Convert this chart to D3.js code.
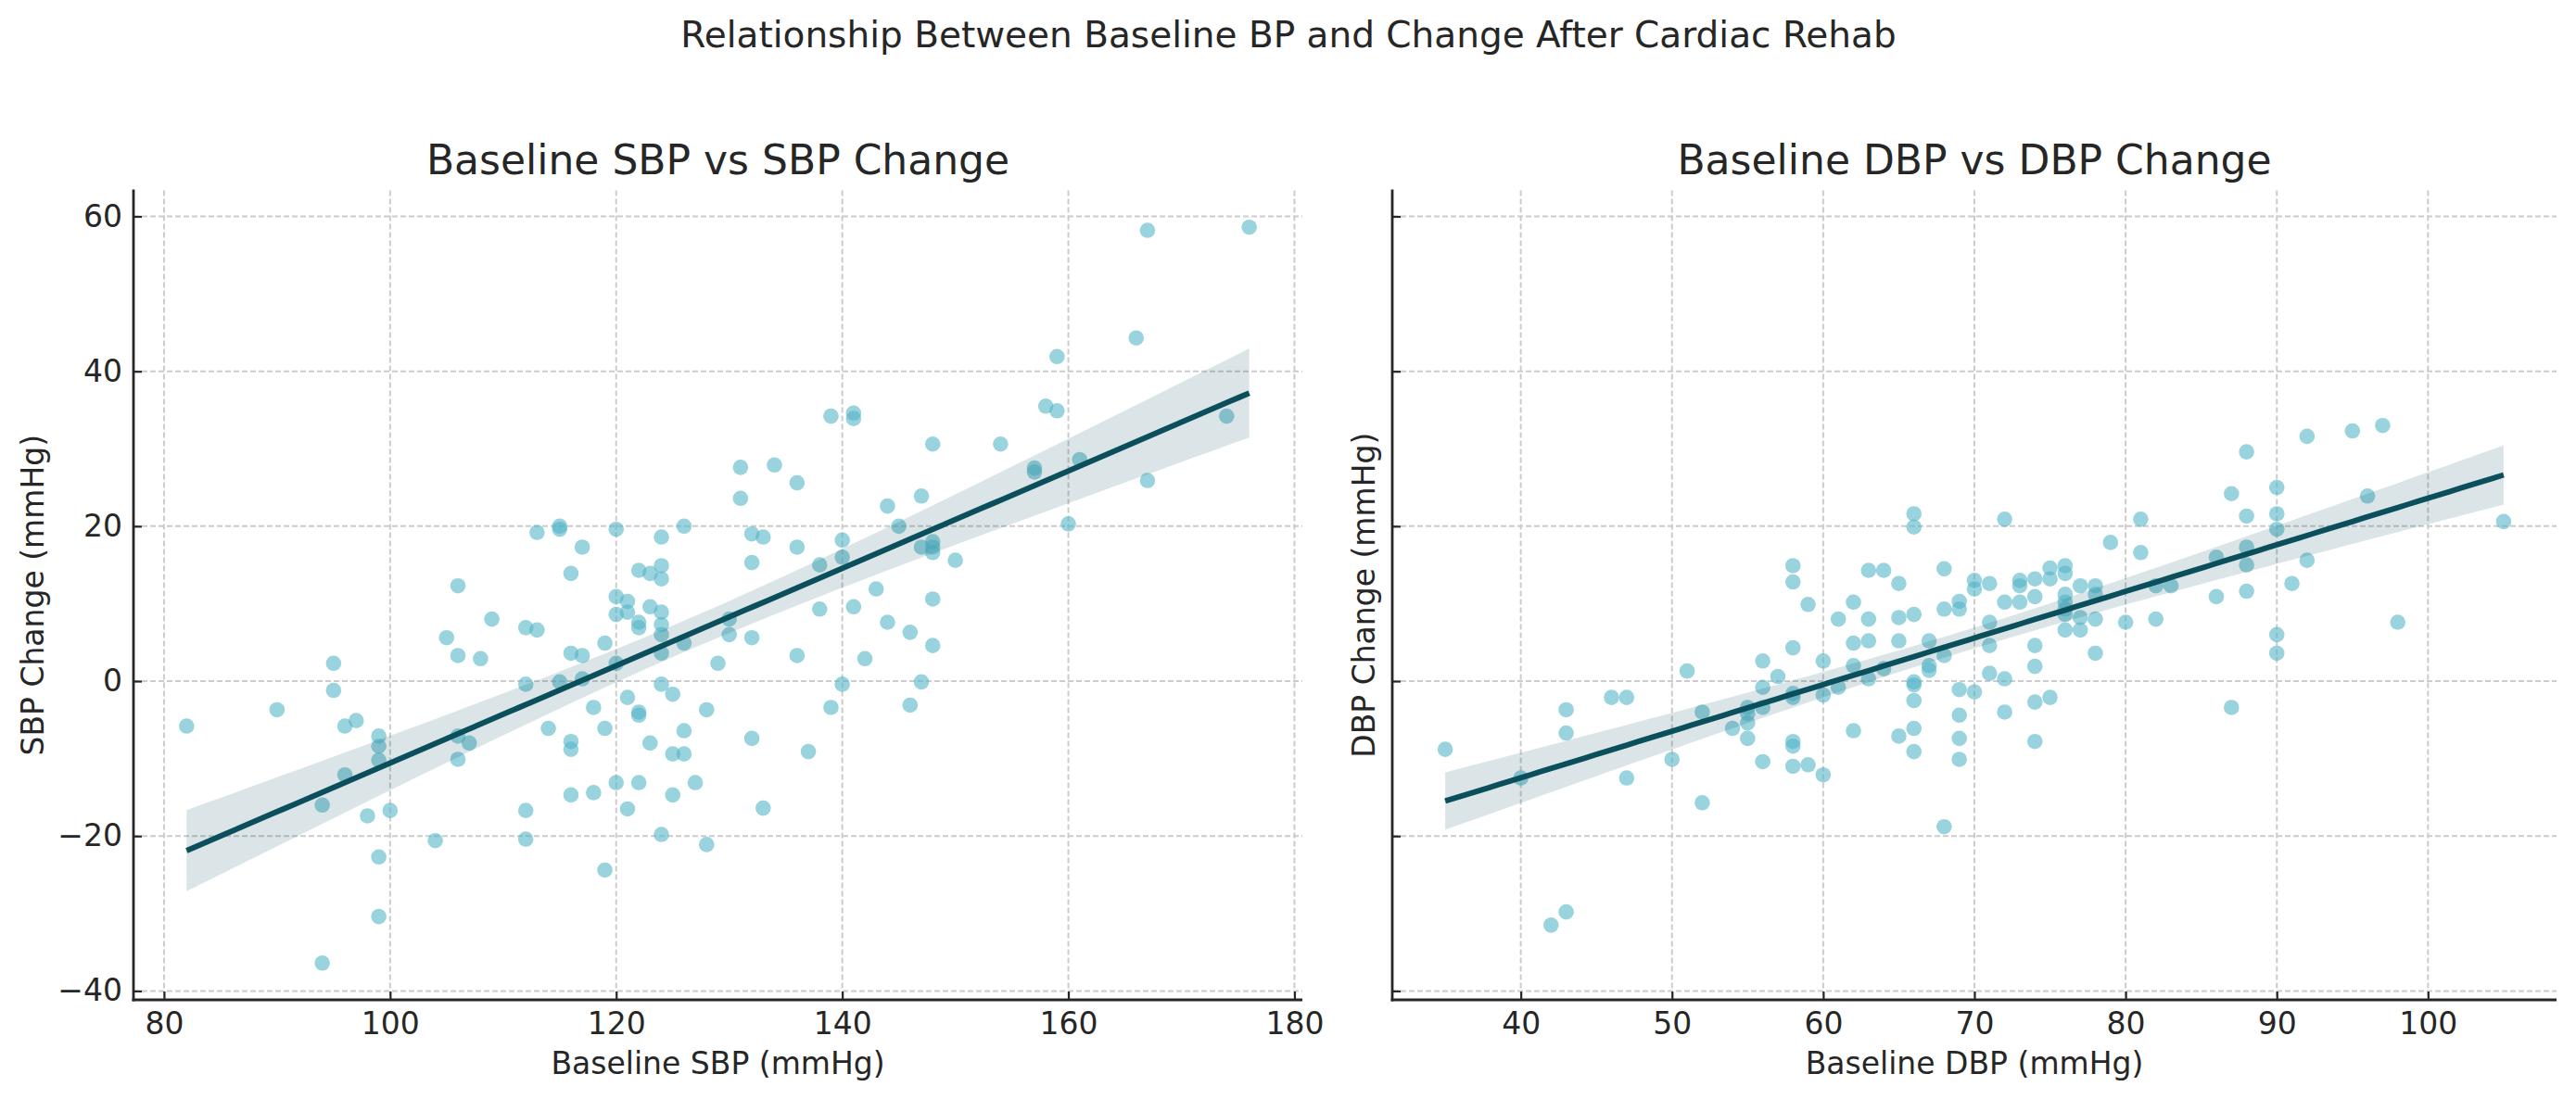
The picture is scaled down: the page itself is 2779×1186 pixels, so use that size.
<!DOCTYPE html>
<html>
<head>
<meta charset="utf-8">
<script src="https://cdnjs.cloudflare.com/ajax/libs/d3/7.8.5/d3.min.js"></script>
<style>
body { margin: 0; background: #ffffff; }
text { font-family: "DejaVu Sans", sans-serif; fill: #262626; }
</style>
</head>
<body>
<div id="vis"></div>
<script>
var w = 2779, h = 1186; //size of the svg

//baseline SBP and SBP change
var sbpBase = [82, 90, 95, 95, 96, 97, 99, 99, 99, 96, 94, 98, 100, 104, 99, 99, 94,
    106, 105, 106, 108, 109, 106, 107, 106, 112, 113, 113, 115, 115, 117, 116, 120, 124, 126,
    122, 123, 124, 124, 120, 121, 121, 120, 122, 122, 123, 124, 124, 124, 124, 126, 119, 116,
    117, 120, 129, 130, 130, 112, 115, 117, 118, 121, 124, 125, 128, 114, 116, 116, 119, 122,
    122, 123, 126, 125, 126, 116, 118, 120, 122, 121, 125, 127, 112, 112, 124, 128, 119,
    131, 131, 134, 136, 139, 141, 141, 148, 154, 132, 133, 132, 136, 138, 140, 140, 144, 145,
    147, 147, 148, 148, 148, 150, 143, 138, 141, 144, 146, 148, 148, 132, 136, 142, 140, 147,
    139, 146, 132, 137, 133,
    167, 176, 166, 159, 158, 159, 157, 157, 161, 167, 174, 160];
var sbpChange = [-5.8, -3.7, 2.3, -1.2, -5.8, -5.1, -7.1, -8.4, -10.2, -12.1, -16.0, -17.4, -16.7, -20.6, -22.7, -30.4, -36.4,
    12.3, 5.6, 3.3, 2.9, 8.0, -7.1, -8.0, -10.1, 6.9, 6.6, 19.2, 20.0, 19.6, 17.3, 13.9, 19.6, 18.6, 20.0,
    14.3, 13.9, 14.9, 13.2, 10.9, 10.3, 8.9, 8.6, 7.6, 6.9, 9.6, 8.9, 7.3, 6.0, 3.6, 4.9, 4.9, 3.6,
    3.3, 2.3, 2.3, 8.0, 6.0, -0.4, -0.1, 0.3, -3.4, -2.1, -0.4, -1.7, -3.7, -6.1, -7.8, -8.8, -6.1, -4.0,
    -4.4, -8.0, -6.4, -9.4, -9.4, -14.7, -14.4, -13.1, -13.1, -16.5, -14.7, -13.1, -16.7, -20.4, -19.8, -21.1, -24.4,
    27.6, 23.6, 27.9, 25.6, 34.2, 34.6, 33.9, 30.6, 30.6, 19.0, 18.6, 15.3, 17.3, 15.0, 18.2, 16.0, 22.6, 20.0,
    23.9, 17.3, 18.0, 17.3, 16.6, 15.6, 11.9, 9.3, 9.6, 7.6, 6.3, 10.6, 4.6, 5.6, 3.3, 2.9, -0.4, -0.1,
    -3.4, -3.1, -7.4, -9.1, -16.4,
    58.2, 58.6, 44.3, 41.9, 35.5, 34.9, 27.5, 27.0, 28.6, 25.9, 34.2, 20.3];

//baseline DBP and DBP change
var dbpBase = [35, 40, 43, 43, 42, 43, 46, 47, 47, 50, 51,
    52, 52, 54, 55, 55, 55, 55, 56, 56, 56, 56, 57, 58, 58, 58, 58, 58, 58, 58, 58, 59, 59,
    60, 60, 60, 61, 61, 62, 62, 62, 62, 63, 63, 63, 63, 64, 64, 65, 65, 65, 65,
    66, 66, 66, 66, 66, 66, 66, 66, 67, 67, 67, 68, 68, 68, 68, 69, 69, 69, 69, 69, 69,
    70, 70, 70, 71, 71, 71, 71,
    72, 72, 72, 72, 73, 73, 73, 74, 74, 74, 74, 74, 74, 75, 75, 75, 76, 76, 76, 76, 76, 76, 76,
    77, 77, 77, 78, 78, 78, 78, 79, 80, 81, 81, 82, 82, 83, 86, 86, 87, 87, 88, 88, 88, 88, 88,
    90, 90, 90, 90, 90,
    91, 92, 92, 95, 96, 97, 98, 105];
var dbpChange = [-8.8, -12.5, -3.7, -6.7, -31.5, -29.8, -2.1, -2.1, -12.5, -10.1, 1.3,
    -4.0, -15.7, -6.1, -3.4, -4.2, -5.4, -7.4, 2.6, -0.8, -3.4, -10.4, 0.6, 14.9, 12.8, 4.3, -1.6, -2.1, -7.8, -8.4, -11.0, 9.9, -10.8,
    2.6, -1.8, -12.1, 8.0, -0.8, 10.2, 4.9, 2.0, -6.4, 14.3, 8.0, 5.2, 0.3, 14.3, 1.6, 12.6, 8.2, 5.2, -7.1,
    21.6, 19.9, 8.6, -0.1, -0.5, -2.5, -6.1, -9.1, 5.2, 2.0, 1.4, 14.5, 9.3, 3.3, -18.8, 10.3, 9.3, -1.1, -4.4, -7.4, -10.1,
    13.0, 11.9, -1.4, 12.6, 7.6, 4.6, 1.0,
    20.9, 10.2, 0.3, -4.0, 13.0, 12.3, 10.2, 13.2, 10.9, 4.6, 1.9, -2.7, -7.8, 14.6, 13.2, -2.1, 14.9, 13.9, 11.2, 10.2, 9.3, 8.6, 6.6,
    12.3, 8.2, 6.6, 12.3, 11.2, 8.0, 3.6, 17.9, 7.6, 20.9, 16.6, 12.3, 8.0, 12.3, 16.0, 10.9, 24.2, -3.4, 29.6, 21.3, 17.3, 15.0, 11.6,
    25.0, 21.6, 19.6, 6.0, 3.6,
    12.6, 31.6, 15.6, 32.3, 23.9, 33.0, 7.6, 20.6];

//tick labels
var sbpTicks = [80, 100, 120, 140, 160, 180];
var dbpTicks = [40, 50, 60, 70, 80, 90, 100];
var changeTicks = [-40, -20, 0, 20, 40, 60];

var pointColor = "#53b6c8", lineColor = "#0b4f5c";

var svg = d3.select("#vis")
            .append("svg")
            .attr("width", w)
            .attr("height", h);

//matplotlib style 5% margin around the data
function padDomain(arr){
    var lo = d3.min(arr), hi = d3.max(arr), m = (hi - lo) * 0.05;
    return [lo - m, hi + m];
}

//minus sign like matplotlib
function fmt(d){
    return d < 0 ? "\u2212" + Math.abs(d) : "" + d;
}

//ordinary least squares fit with a 95% confidence band
function fitLine(xs, ys){
    var n = xs.length, mx = d3.mean(xs), my = d3.mean(ys);
    var sxx = d3.sum(xs, function(d){ return (d - mx) * (d - mx); });
    var sxy = d3.sum(xs, function(d, i){ return (d - mx) * (ys[i] - my); });
    var b = sxy / sxx, a = my - b * mx;
    var sse = d3.sum(xs, function(d, i){ return Math.pow(ys[i] - (a + b * d), 2); });
    var s = Math.sqrt(sse / (n - 2)), t = 1.977;
    var lo = d3.min(xs), hi = d3.max(xs);
    return d3.range(100).map(function(i){
        var x = lo + (hi - lo) * i / 99;
        var yh = a + b * x;
        var se = s * Math.sqrt(1 / n + (x - mx) * (x - mx) / sxx);
        return {x: x, y: yh, lo: yh - t * se, hi: yh + t * se};
    });
}

var plotTop = 205.5, plotBottom = 1079;

//shared vertical scale
var yScale = d3.scaleLinear()
               .domain(padDomain(sbpChange.concat(dbpChange)))
               .range([plotBottom, plotTop]);

function drawPanel(xs, ys, xScale, xTicks, title, xlabel, ylabel, showYLabels, ylabelX){
    var g = svg.append("g");
    var x0 = xScale.range()[0], x1 = xScale.range()[1];

    //dashed grid
    g.selectAll(".vgrid")
        .data(xTicks)
        .enter()
        .append("line")
        .attr("x1", function(d){ return xScale(d); })
        .attr("x2", function(d){ return xScale(d); })
        .attr("y1", plotTop)
        .attr("y2", plotBottom)
        .attr("stroke", "#cccccc")
        .attr("stroke-width", 2)
        .attr("stroke-dasharray", "6,3");
    g.selectAll(".hgrid")
        .data(changeTicks)
        .enter()
        .append("line")
        .attr("x1", x0)
        .attr("x2", x1)
        .attr("y1", function(d){ return yScale(d); })
        .attr("y2", function(d){ return yScale(d); })
        .attr("stroke", "#cccccc")
        .attr("stroke-width", 2)
        .attr("stroke-dasharray", "6,3");

    //scatter points
    g.selectAll("circle")
        .data(d3.zip(xs, ys))
        .enter()
        .append("circle")
        .attr("cx", function(d){ return xScale(d[0]); })
        .attr("cy", function(d){ return yScale(d[1]); })
        .attr("r", 8.3)
        .attr("fill", pointColor)
        .attr("fill-opacity", 0.6);

    //regression band and line
    var fit = fitLine(xs, ys);
    g.append("path")
        .datum(fit)
        .attr("d", d3.area()
            .x(function(d){ return xScale(d.x); })
            .y0(function(d){ return yScale(d.lo); })
            .y1(function(d){ return yScale(d.hi); }))
        .attr("fill", lineColor)
        .attr("fill-opacity", 0.15);
    g.append("path")
        .datum(fit)
        .attr("d", d3.line()
            .x(function(d){ return xScale(d.x); })
            .y(function(d){ return yScale(d.y); }))
        .attr("fill", "none")
        .attr("stroke", lineColor)
        .attr("stroke-width", 6);

    //axes with inward ticks
    var xAxis = g.append("g")
        .attr("transform", "translate(0," + plotBottom + ")")
        .call(d3.axisBottom(xScale).tickValues(xTicks).tickFormat(fmt)
            .tickSizeInner(-9).tickSizeOuter(0).tickPadding(14));
    var yAxis = g.append("g")
        .attr("transform", "translate(" + x0 + ",0)")
        .call(d3.axisLeft(yScale).tickValues(changeTicks)
            .tickFormat(showYLabels ? fmt : function(){ return ""; })
            .tickSizeInner(-9).tickSizeOuter(0).tickPadding(12));
    [xAxis, yAxis].forEach(function(a){
        a.select(".domain").attr("stroke", "#262626").attr("stroke-width", 2.8);
        a.selectAll(".tick line").attr("stroke", "#262626").attr("stroke-width", 2.2);
        a.selectAll(".tick text").style("font-size", "33px").attr("fill", "#262626");
    });
    yAxis.select(".domain").attr("d", "M0," + (plotTop - 1) + "V" + (plotBottom + 1.4));
    xAxis.select(".domain").attr("d", "M" + (x0 - 1.4) + ",0H" + x1);

    //labels
    g.append("text")
        .attr("x", (x0 + x1) / 2)
        .attr("y", 188)
        .attr("text-anchor", "middle")
        .style("font-size", "44px")
        .attr("fill", "#333333")
        .text(title);
    g.append("text")
        .attr("x", (x0 + x1) / 2)
        .attr("y", 1159)
        .attr("text-anchor", "middle")
        .style("font-size", "33px")
        .text(xlabel);
    g.append("text")
        .attr("transform", "translate(" + ylabelX + "," + ((plotTop + plotBottom) / 2) + ") rotate(-90)")
        .attr("text-anchor", "middle")
        .style("font-size", "33px")
        .text(ylabel);
}

var sbpScale = d3.scaleLinear().domain(padDomain(sbpBase)).range([144, 1405]);
var dbpScale = d3.scaleLinear().domain(padDomain(dbpBase)).range([1502, 2758]);

drawPanel(sbpBase, sbpChange, sbpScale, sbpTicks, "Baseline SBP vs SBP Change",
    "Baseline SBP (mmHg)", "SBP Change (mmHg)", true, 47);
drawPanel(dbpBase, dbpChange, dbpScale, dbpTicks, "Baseline DBP vs DBP Change",
    "Baseline DBP (mmHg)", "DBP Change (mmHg)", false, 1483);

//figure title
svg.append("text")
    .attr("x", 1390)
    .attr("y", 51)
    .attr("text-anchor", "middle")
    .style("font-size", "39px")
    .attr("fill", "#333333")
    .text("Relationship Between Baseline BP and Change After Cardiac Rehab");
</script>
</body>
</html>
